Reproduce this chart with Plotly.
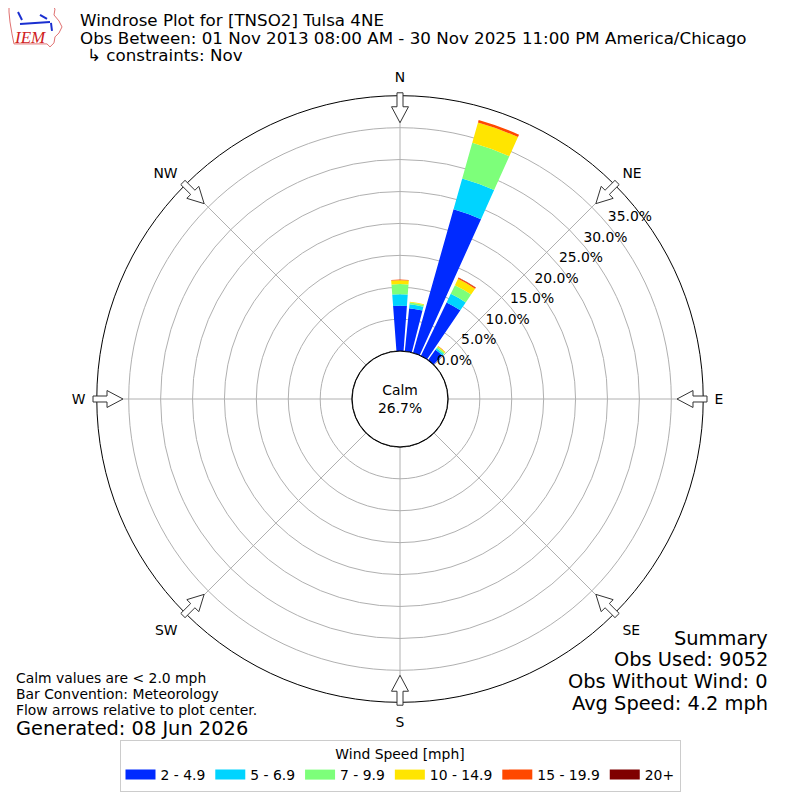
import numpy as np
import plotly.graph_objects as go

# direction of each bar (deg from north) and frequency (%) per speed bin
directions = [0, 10, 20, 30, 40]
speed_bins = ["2 - 4.9", "5 - 6.9", "7 - 9.9", "10 - 14.9", "15 - 19.9", "20+"]
freq_2_5 = [7.1, 6.8, 23.4, 9.3, 2.0]
freq_5_7 = [1.8, 0.6, 5.0, 1.5, 0.3]
freq_7_10 = [1.6, 0.3, 5.8, 1.5, 0.25]
freq_10_15 = [0.6, 0.1, 3.3, 1.1, 0.15]
freq_15_20 = [0.1, 0.03, 0.4, 0.2, 0.05]
freq_20p = [0.0, 0.0, 0.02, 0.02, 0.0]
bin_colors = ["#002aff", "#00d4ff", "#7dff7a", "#ffe500", "#ff4800", "#7f0000"]

calm_pct = 26.7
radial_ticks = [0, 5, 10, 15, 20, 25, 30, 35]
compass_deg = [0, 45, 90, 135, 180, 225, 270, 315]
compass_txt = ["N", "NE", "E", "SE", "S", "SW", "W", "NW"]

title_lines = ["Windrose Plot for [TNSO2] Tulsa 4NE",
               "Obs Between: 01 Nov 2013 08:00 AM - 30 Nov 2025 11:00 PM America/Chicago",
               "↳ constraints: Nov"]
note_lines = ["Calm values are < 2.0 mph", "Bar Convention: Meteorology",
              "Flow arrows relative to plot center."]
generated = "Generated: 08 Jun 2026"
summary_lines = ["Summary", "Obs Used: 9052", "Obs Without Wind: 0", "Avg Speed: 4.2 mph"]

# the page body has an 8px margin, so the figure is 784px and sits at (8, 8)
OFF = 8
W = H = 784
FONT = "DejaVu Sans"
SMALL, MID, BIG = 13.9, 16.7, 19.4
CX, CY, R_OUT, R_HOLE = 400, 400, 304, 48


def px(x):
    return (x - OFF) / W


def py(y):
    return 1 - (y - OFF) / H


fig = go.Figure()

all_freqs = [freq_2_5, freq_5_7, freq_7_10, freq_10_15, freq_15_20, freq_20p]
for name, vals, col in zip(speed_bins, all_freqs, bin_colors):
    fig.add_trace(go.Barpolar(
        r=vals, theta=directions, width=8.5, name=name, showlegend=False,
        marker=dict(color=col, line=dict(width=0)),
    ))
# legend keys drawn as wide colour patches
for name, col in zip(speed_bins, bin_colors):
    fig.add_trace(go.Scatterpolar(
        r=[None], theta=[None], mode="lines", name=name,
        line=dict(color=col, width=10), hoverinfo="skip",
    ))

# black edge of the calm circle
ring = np.linspace(0, 360, 181)
fig.add_trace(go.Scatterpolar(
    r=[0] * len(ring), theta=ring, mode="lines",
    line=dict(color="black", width=1.2), showlegend=False, hoverinfo="skip",
))

# radial tick labels
fig.add_trace(go.Scatterpolar(
    r=radial_ticks, theta=[50] * len(radial_ticks), mode="text",
    text=[f"{v:.1f}%" for v in radial_ticks], textposition="top right",
    textfont=dict(family=FONT, size=SMALL, color="black"),
    showlegend=False, hoverinfo="skip",
))

fig.update_layout(
    width=W, height=H, margin=dict(l=0, r=0, t=0, b=0),
    paper_bgcolor="white", plot_bgcolor="white",
    font=dict(family=FONT, size=SMALL, color="black"),
    barmode="stack",
    polar=dict(
        domain=dict(x=[px(CX - R_OUT), px(CX + R_OUT)], y=[py(CY + R_OUT), py(CY - R_OUT)]),
        hole=R_HOLE / R_OUT,
        bgcolor="white",
        radialaxis=dict(range=[0, 40], tickvals=radial_ticks, showticklabels=False,
                        ticks="", showline=False, gridcolor="#b0b0b0", gridwidth=1,
                        layer="below traces"),
        angularaxis=dict(direction="clockwise", rotation=90, tickvals=compass_deg,
                         ticktext=compass_txt, ticks="outside", ticklen=8,
                         tickcolor="rgba(0,0,0,0)", gridcolor="#b0b0b0",
                         showline=True, linecolor="black", linewidth=1,
                         tickfont=dict(family=FONT, size=SMALL), layer="below traces"),
    ),
    legend=dict(
        orientation="h", x=px(400), xanchor="center", y=py(742), yanchor="top",
        bordercolor="#cccccc", borderwidth=1, bgcolor="white", itemwidth=30,
        title=dict(text="Wind Speed [mph]", side="top center", font=dict(size=SMALL)),
        font=dict(size=SMALL), traceorder="normal",
    ),
)

# flow arrows on the outer ring, pointing to the centre
shapes = []
for a in compass_deg:
    t = np.radians(a)
    ux, uy = np.sin(t), -np.cos(t)
    vx, vy = np.cos(t), np.sin(t)
    pts = [(307, -3), (293, -3), (293, -8.5), (277, 0), (293, 8.5), (293, 3), (307, 3)]
    path = ""
    for i, (rr, ww) in enumerate(pts):
        x = CX + rr * ux + ww * vx
        y = CY + rr * uy + ww * vy
        path += ("M" if i == 0 else "L") + f"{px(x):.5f},{py(y):.5f} "
    shapes.append(dict(type="path", path=path + "Z", xref="paper", yref="paper",
                       fillcolor="white", line=dict(color="#333333", width=1)))

# rough IEM logo
logo = [(9, 5), (52, 5), (55, 9), (54, 15), (59, 21), (62, 27), (59, 33), (55, 37),
        (54, 43), (50, 47), (47, 44), (14, 44), (12, 34), (10, 22), (9, 12)]
shapes.append(dict(type="path", xref="paper", yref="paper",
                   path="M" + " L".join(f"{px(x):.5f},{py(y):.5f}" for x, y in logo) + " Z",
                   line=dict(color="#e07070", width=1)))
for (x0, y0, x1, y1) in [(20, 24, 50, 22), (18, 12, 22, 20), (40, 15, 47, 19), (51, 23, 52, 31)]:
    shapes.append(dict(type="line", xref="paper", yref="paper",
                       x0=px(x0), y0=py(y0), x1=px(x1), y1=py(y1),
                       line=dict(color="#1a2fd0", width=2)))
fig.update_layout(shapes=shapes)

ann = []
ann.append(dict(text="<i>IEM</i>", x=px(30), y=py(38),
                font=dict(family="Liberation Serif", size=17, color="#d02020")))
for txt, yy in zip(title_lines, [20, 38, 55]):
    xx = 79 if not txt.startswith("↳") else 86
    ann.append(dict(text=txt, x=px(xx), y=py(yy), xanchor="left", font=dict(size=MID)))
for txt, yy in zip(note_lines, [680, 696, 712]):
    ann.append(dict(text=txt, x=px(15), y=py(yy), xanchor="left", font=dict(size=SMALL)))
ann.append(dict(text=generated, x=px(15), y=py(730), xanchor="left", font=dict(size=BIG)))
for txt, yy in zip(summary_lines, [640, 661, 683, 705]):
    ann.append(dict(text=txt, x=px(769), y=py(yy), xanchor="right", font=dict(size=BIG)))
ann.append(dict(text=f"Calm<br>{calm_pct:.1f}%", x=px(CX), y=py(CY), font=dict(size=SMALL)))
for a in ann:
    a.update(xref="paper", yref="paper", showarrow=False, yanchor="middle", borderpad=0)
    a.setdefault("xanchor", "center")
fig.update_layout(annotations=ann)

fig.write_html("out.html")
